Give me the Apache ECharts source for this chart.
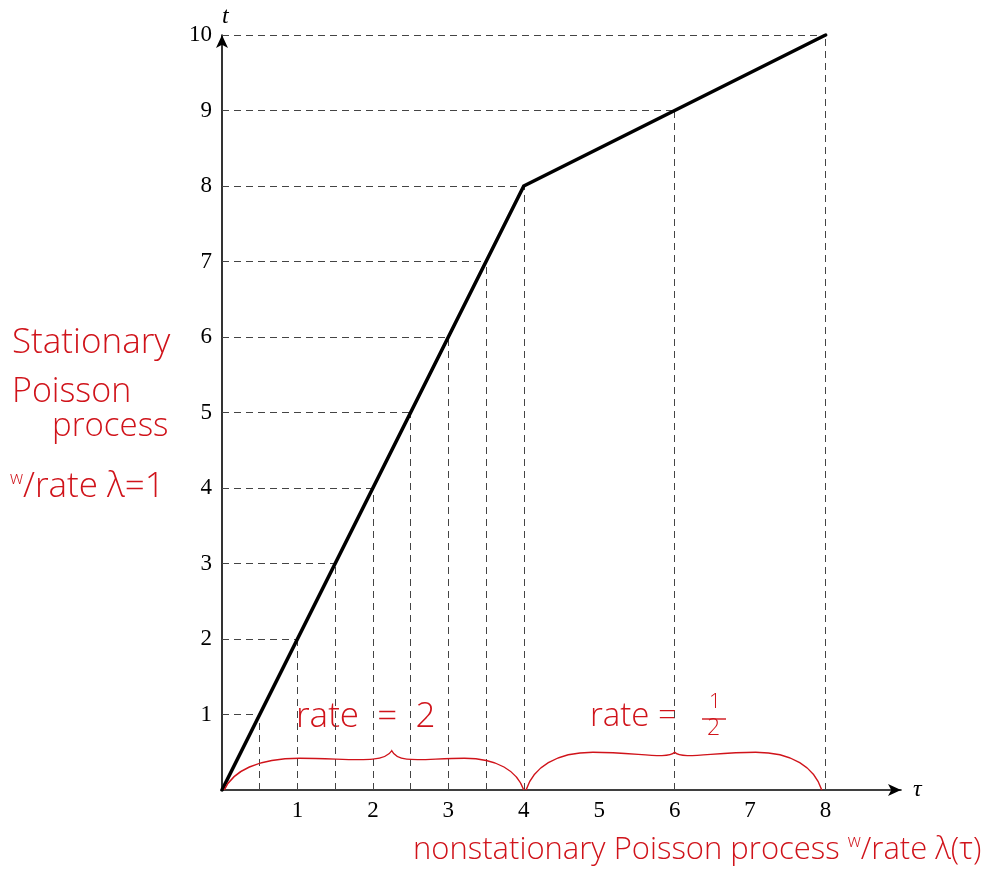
<!DOCTYPE html>
<html>
<head>
<meta charset="utf-8">
<script src="https://cdn.jsdelivr.net/npm/echarts@6/dist/echarts.min.js"></script>
<style>
  html, body { margin: 0; padding: 0; background: #fff; }
  #chart { width: 991px; height: 876px; }
</style>
</head>
<body>
<div id="chart"></div>
<script>
// time change: tau (operational time) vs t
const tauValues = [0, 4, 8]
const tValues = [0, 8, 10]

// where the dashed guides meet the curve
const guideTau = [0.5, 1, 1.5, 2, 2.5, 3, 3.5, 4, 6, 8]
const guideT = [1, 2, 3, 4, 5, 6, 7, 8, 9, 10]

const xTickLabels = ['1', '2', '3', '4', '5', '6', '7', '8']
const yTickLabels = ['1', '2', '3', '4', '5', '6', '7', '8', '9', '10']

// braces: [from, to, tip, height, tipHeight]
const braces = [
  [0.03, 4.0, 2.25, 0.42, 0.52],
  [4.03, 7.95, 6.0, 0.5, 0.5]
]

const red = '#d0131a'
const hand = '"Open Sans", "Liberation Sans", sans-serif'

const chart = echarts.init(document.getElementById('chart'))

const guideLines = []
guideTau.forEach((tau, i) => {
  guideLines.push([{ coord: [0, guideT[i]] }, { coord: [tau, guideT[i]] }])
  guideLines.push([{ coord: [tau, 0] }, { coord: [tau, guideT[i]] }])
})

function renderBrace(params, api) {
  const x0 = api.value(0), x1 = api.value(1), xt = api.value(2)
  const h = api.value(3), th = api.value(4)
  const L = xt - x0, R = x1 - xt
  const p = (x, y) => api.coord([x, y]).join(' ')
  const d = 'M' + p(x0, 0) +
    ' C' + p(x0 + 0.05 * L, 0.6 * h) + ' ' + p(x0 + 0.2 * L, h) + ' ' + p(x0 + 0.45 * L, h) +
    ' C' + p(x0 + 0.75 * L, h) + ' ' + p(xt - 0.05 * L, 0.8 * h) + ' ' + p(xt, th) +
    ' C' + p(xt + 0.05 * R, 0.8 * h) + ' ' + p(xt + 0.25 * R, h) + ' ' + p(xt + 0.55 * R, h) +
    ' C' + p(x1 - 0.2 * R, h) + ' ' + p(x1 - 0.05 * R, 0.6 * h) + ' ' + p(x1, 0)
  return {
    type: 'path',
    shape: { pathData: d },
    style: { fill: null, stroke: red, lineWidth: 1.4 }
  }
}

const sup = { fontSize: 18, fontFamily: hand, fontWeight: 300, color: red, verticalAlign: 'top', padding: [0, 0, 16, 0] }

const option = {
  animation: false,
  grid: { left: 222, right: 90, top: 35, bottom: 86 },
  xAxis: {
    type: 'value', min: 0, max: 9, interval: 1,
    name: 'τ', nameLocation: 'end', nameGap: 12,
    nameTextStyle: { fontFamily: 'Liberation Serif', fontStyle: 'italic', fontSize: 24, color: '#000', verticalAlign: 'middle' },
    axisLine: { lineStyle: { color: '#000', width: 1.6 }, symbol: ['none', 'arrow'], symbolSize: [9, 13] },
    axisTick: { show: false },
    splitLine: { show: false },
    axisLabel: {
      margin: 9, fontFamily: 'Liberation Serif', fontSize: 23, color: '#000',
      formatter: v => xTickLabels.includes(String(v)) ? String(v) : ''
    }
  },
  yAxis: {
    type: 'value', min: 0, max: 10, interval: 1,
    name: 't', nameLocation: 'end', nameGap: 6,
    nameTextStyle: { fontFamily: 'Liberation Serif', fontStyle: 'italic', fontSize: 24, color: '#000', align: 'left', padding: [0, 0, 0, 0] },
    axisLine: { lineStyle: { color: '#000', width: 1.6 }, symbol: ['none', 'arrow'], symbolSize: [9, 13] },
    axisTick: { show: false },
    splitLine: { show: false },
    axisLabel: {
      margin: 10, fontFamily: 'Liberation Serif', fontSize: 23, color: '#000',
      formatter: v => yTickLabels.includes(String(v)) ? String(v) : ''
    }
  },
  series: [
    {
      name: 'guides', type: 'line', data: [], silent: true,
      markLine: {
        symbol: 'none', silent: true, label: { show: false },
        lineStyle: { color: '#444', type: [7, 5], width: 1 },
        data: guideLines
      }
    },
    {
      name: 't(τ)', type: 'line', z: 5,
      data: tauValues.map((x, i) => [x, tValues[i]]),
      symbol: 'none',
      lineStyle: { color: '#000', width: 3.6, cap: 'round', join: 'miter' }
    },
    {
      name: 'braces', type: 'custom', z: 6, clip: false,
      renderItem: renderBrace,
      data: braces
    }
  ],
  graphic: [
    { type: 'text', left: 12, top: 326, style: { text: 'Stationary', font: '300 35px ' + hand, fill: red } },
    { type: 'text', left: 12, top: 375, style: { text: 'Poisson', font: '300 34px ' + hand, fill: red } },
    { type: 'text', left: 52, top: 410, style: { text: 'process', font: '300 33px ' + hand, fill: red } },
    { type: 'text', left: 10, top: 470, style: {
        text: '{s|w}/rate λ=1', font: '300 35px ' + hand, fill: red, rich: { s: sup }
    } },
    { type: 'text', left: 296, top: 700, style: { text: 'rate  =  2', font: '300 35px ' + hand, fill: red } },
    { type: 'text', left: 590, top: 700, style: { text: 'rate =', font: '300 33px ' + hand, fill: red } },
    { type: 'text', left: 709, top: 692, style: { text: '1', font: '300 21px ' + hand, fill: red } },
    { type: 'line', shape: { x1: 702, y1: 719, x2: 726, y2: 719 }, style: { stroke: red, lineWidth: 1.4 } },
    { type: 'text', left: 707, top: 717, style: { text: '2', font: '300 23px ' + hand, fill: red } },
    { type: 'text', left: 413, top: 833, style: {
        text: 'nonstationary Poisson process {s|w}/rate λ(τ)', font: '300 31px ' + hand, fill: red, rich: { s: sup }
    } }
  ]
}

chart.setOption(option)
</script>
</body>
</html>
